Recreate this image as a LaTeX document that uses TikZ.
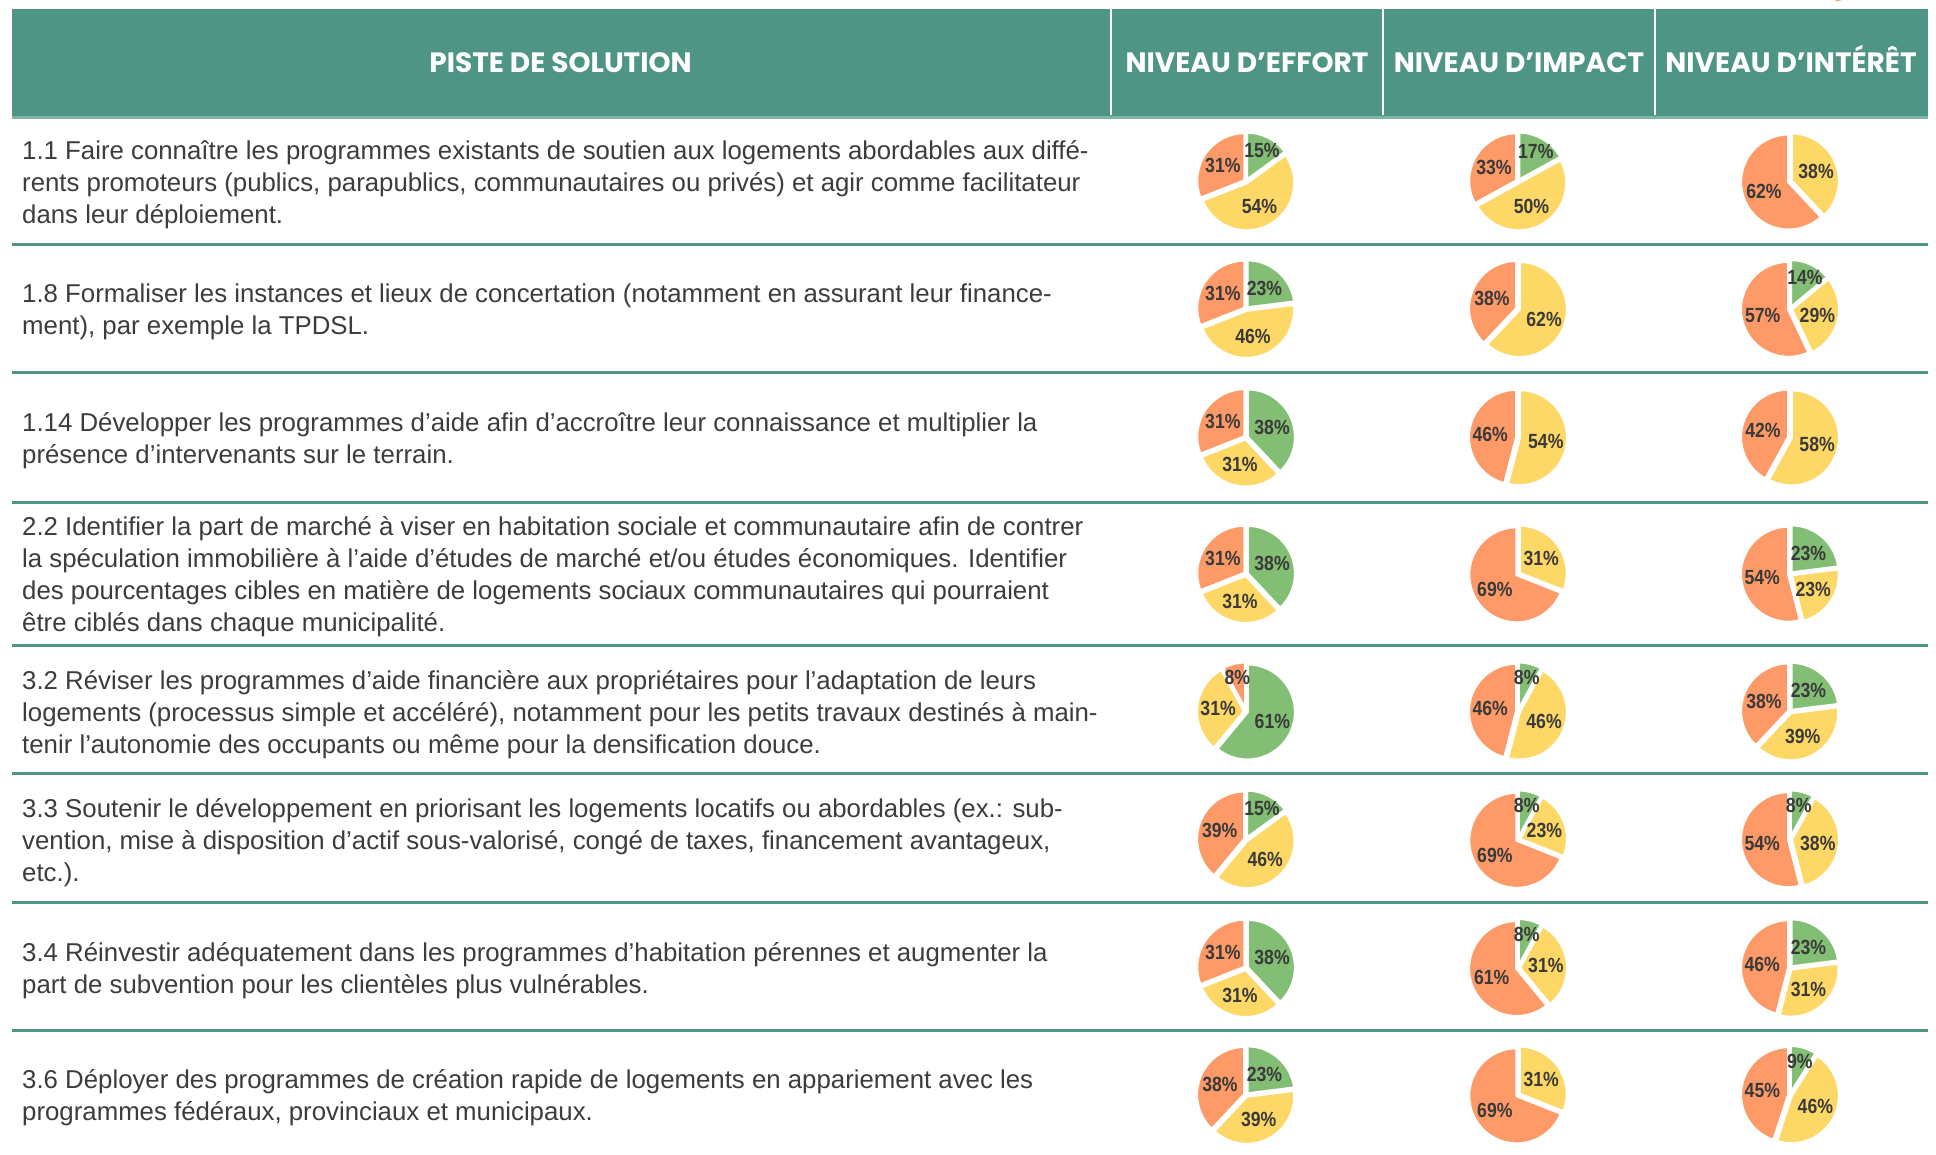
\documentclass[tikz,border=0pt]{standalone}
\usepackage{fontspec}
\setmainfont{Liberation Sans}
\newfontfamily\headfont{Poppins}
\newfontfamily\lblfont{Liberation Sans}
\definecolor{cteal}{HTML}{4E9586}
\definecolor{clight}{HTML}{7DB4A6}
\definecolor{cgreen}{HTML}{82BE73}
\definecolor{cyellow}{HTML}{FED866}
\definecolor{corange}{HTML}{FD9A68}
\definecolor{ctext}{HTML}{3C3C3C}
\definecolor{clbl}{HTML}{3A3A3A}
\tikzset{
  hdr/.style={text=white, font=\headfont\bfseries\fontsize{28}{32}\selectfont, inner sep=0pt, anchor=base},
  body/.style={anchor=west, align=left, text=ctext, font=\fontsize{25.8}{31.9}\selectfont, inner sep=0pt},
  lbl/.style={text=clbl, font=\lblfont\bfseries\fontsize{20.5}{20.5}\selectfont, inner sep=0pt},
  rowline/.style={draw=cteal, line width=3pt},
  divider/.style={draw=white, line width=2pt},
}
\newcommand\pieshape[5]{%
  \pgfmathsetmacro\aA{90-3.6*(#3)}%
  \pgfmathsetmacro\aB{90-3.6*((#3)+(#4))}%
  \pgfmathsetmacro\aM{(\aA+\aB)/2}%
  \path (#1,#2) ++(\aM:1.5) coordinate (pc);%
  \filldraw[fill=#5, draw=white, line width=3pt, line join=round] (pc) -- ++(\aA:48) arc[start angle=\aA, end angle=\aB, radius=48] -- cycle;%
}
\newcommand\pielabel[5]{%
  \pgfmathsetmacro\aM{90-3.6*((#3)+(#4)/2)}%
  \pgfmathsetmacro\dL{ifthenelse((#4)<20,35,28)}%
  \path (#1,#2) ++(\aM:\dL) node[lbl] (#5) {\scalebox{0.86}[1]{#4\%}};%
}
\newcommand\mypie[6]{%
  \ifnum#3>0 \pieshape{#1}{#2}{0}{#3}{cgreen}\fi
  \pieshape{#1}{#2}{#3}{#4}{cyellow}%
  \pieshape{#1}{#2}{#3+#4}{#5}{corange}%
  \ifnum#3>0 \pielabel{#1}{#2}{0}{#3}{#6g}\fi
  \pielabel{#1}{#2}{#3}{#4}{#6y}%
  \pielabel{#1}{#2}{#3+#4}{#5}{#6o}%
}
\begin{document}
\begin{tikzpicture}[x=1pt,y=1pt]
\useasboundingbox (0,0) rectangle (1936,1155);
\fill[white] (0,0) rectangle (1936,1155);
\begin{scope}
\clip (0,0) rectangle (1936,1155);
\fill[corange] (1838,1162) circle (8);
\end{scope}
% header
\fill[cteal] (12,1146.4) rectangle (1928,1038);
\draw[clight, line width=3pt] (12,1037) -- (1928,1037);
\draw[divider] (1111,1146.4) -- (1111,1040);
\draw[divider] (1383,1146.4) -- (1383,1040);
\draw[divider] (1655,1146.4) -- (1655,1040);
\node[hdr] (h0) at (560.5,1082) {PISTE DE SOLUTION};
\node[hdr] (h1) at (1247,1082) {NIVEAU D’EFFORT};
\node[hdr] (h2) at (1519,1082) {NIVEAU D’IMPACT};
\node[hdr] (h3) at (1791,1082) {NIVEAU D’INTÉRÊT};
% row lines
\foreach \yy in {910.5,782,652.5,509,381,252.5,124}
  \draw[rowline] (12,\yy) -- (1928,\yy);
% texts
\node[body] (t1) at (22,970.5) {1.1 Faire connaître les programmes existants de soutien aux logements abordables aux diffé-\\rents promoteurs (publics, parapublics, communautaires ou privés) et agir comme facilitateur\\dans leur déploiement.};
\node[body] (t2) at (22,843) {1.8 Formaliser les instances et lieux de concertation (notamment en assurant leur finance-\\ment), par exemple la TPDSL.};
\node[body] (t3) at (22,714.5) {1.14 Développer les programmes d’aide afin d’accroître leur connaissance et multiplier la\\présence d’intervenants sur le terrain.};
\node[body] (t4) at (22,578) {2.2 Identifier la part de marché à viser en habitation sociale et communautaire afin de contrer\\la spéculation immobilière à l’aide d’études de marché et/ou études économiques. Identifier\\des pourcentages cibles en matière de logements sociaux communautaires qui pourraient\\être ciblés dans chaque municipalité.};
\node[body] (t5) at (22,440.5) {3.2 Réviser les programmes d’aide financière aux propriétaires pour l’adaptation de leurs\\logements (processus simple et accéléré), notamment pour les petits travaux destinés à main-\\tenir l’autonomie des occupants ou même pour la densification douce.};
\node[body] (t6) at (22,312.5) {3.3 Soutenir le développement en priorisant les logements locatifs ou abordables (ex.: sub-\\vention, mise à disposition d’actif sous-valorisé, congé de taxes, financement avantageux,\\etc.).};
\node[body] (t7) at (22,184) {3.4 Réinvestir adéquatement dans les programmes d’habitation pérennes et augmenter la\\part de subvention pour les clientèles plus vulnérables.};
\node[body] (t8) at (22,57) {3.6 Déployer des programmes de création rapide de logements en appariement avec les\\programmes fédéraux, provinciaux et municipaux.};
% pies
\mypie{1246}{973.5}{15}{54}{31}{p1e}
\mypie{1518}{973.5}{17}{50}{33}{p1i}
\mypie{1790}{973.5}{0}{38}{62}{p1n}
\mypie{1246}{846}{23}{46}{31}{p2e}
\mypie{1518}{846}{0}{62}{38}{p2i}
\mypie{1790}{846}{14}{29}{57}{p2n}
\mypie{1246}{717.5}{38}{31}{31}{p3e}
\mypie{1518}{717.5}{0}{54}{46}{p3i}
\mypie{1790}{717.5}{0}{58}{42}{p3n}
\mypie{1246}{581}{38}{31}{31}{p4e}
\mypie{1518}{581}{0}{31}{69}{p4i}
\mypie{1790}{581}{23}{23}{54}{p4n}
\mypie{1246}{443.5}{61}{31}{8}{p5e}
\mypie{1518}{443.5}{8}{46}{46}{p5i}
\mypie{1790}{443.5}{23}{39}{38}{p5n}
\mypie{1246}{315.5}{15}{46}{39}{p6e}
\mypie{1518}{315.5}{8}{23}{69}{p6i}
\mypie{1790}{315.5}{8}{38}{54}{p6n}
\mypie{1246}{187}{38}{31}{31}{p7e}
\mypie{1518}{187}{8}{31}{61}{p7i}
\mypie{1790}{187}{23}{31}{46}{p7n}
\mypie{1246}{60}{23}{39}{38}{p8e}
\mypie{1518}{60}{0}{31}{69}{p8i}
\mypie{1790}{60}{9}{46}{45}{p8n}
\end{tikzpicture}
\end{document}
